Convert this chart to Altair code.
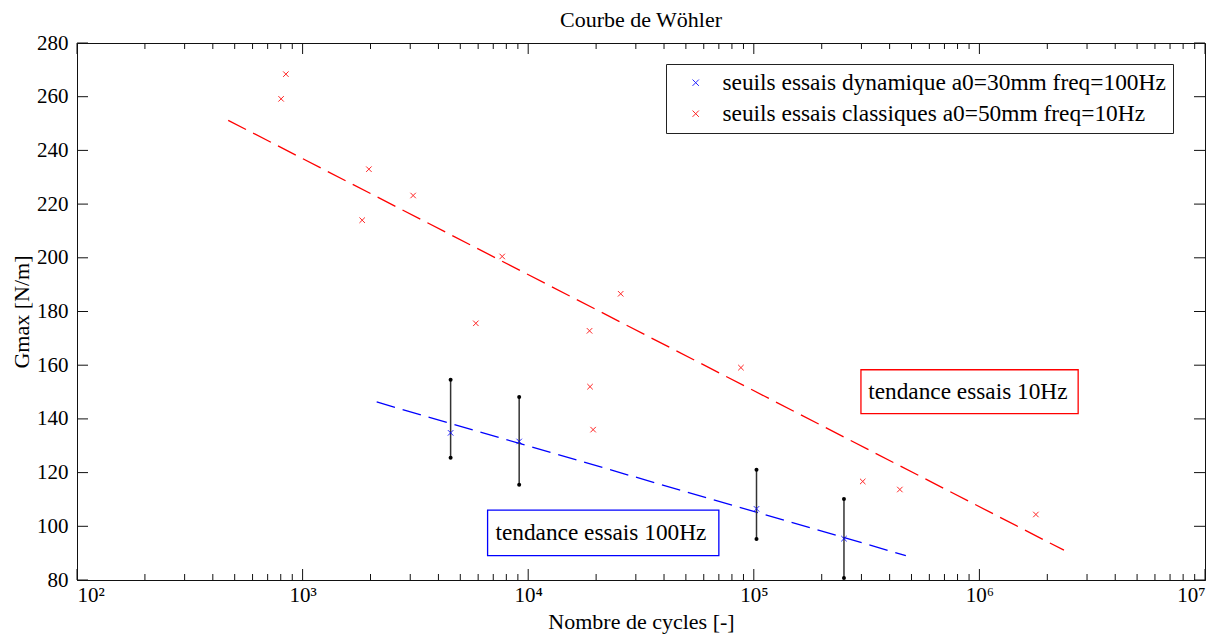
import altair as alt
import pandas as pd

# ---------------- data ----------------
label_blue = "seuils essais dynamique a0=30mm freq=100Hz"
label_red = "seuils essais classiques a0=50mm freq=10Hz"

red_N = [843, 803, 1967, 1837, 3090, 7670, 5860, 25700, 18700, 18800, 19400,
         87700, 304000, 444000, 1780000]
red_G = [268.4, 259.2, 233.0, 214.0, 223.2, 200.5, 175.6, 186.6, 172.8, 152.0,
         136.0, 159.1, 116.7, 113.7, 104.4]

blue_N = [4530, 9120, 102800, 251000]
blue_G = [134.8, 131.6, 106.5, 95.4]
blue_low = [125.5, 115.5, 95.3, 80.7]
blue_high = [154.6, 148.2, 121.1, 110.2]

trend_red_N = [468, 2370000]
trend_red_G = [251.2, 91.1]
trend_blue_N = [2130, 472000]
trend_blue_G = [146.3, 89.1]

ann_text = ["tendance essais 10Hz", "tendance essais 100Hz"]
ann_color = ["#ff0000", "#0000ff"]
ann_N = [889000, 21000]
ann_G = [150.15, 97.55]
box_N1 = [298500, 6607]
box_N2 = [2740000, 70000]
box_G1 = [158.3, 106.0]
box_G2 = [142.0, 89.1]

x_major = [1e2, 1e3, 1e4, 1e5, 1e6, 1e7]
x_minor = [k * 10 ** e for e in range(2, 7) for k in range(2, 10)]
y_ticks = [80, 100, 120, 140, 160, 180, 200, 220, 240, 260, 280]

W, H = 1128, 537
FONT = "Liberation Serif"
XPATH = "M-1,-1L1,1M1,-1L-1,1"

# ---------------- tables ----------------
df_pts = pd.DataFrame({
    "N": blue_N + red_N,
    "G": blue_G + red_G,
    "serie": [label_blue] * len(blue_N) + [label_red] * len(red_N),
})
df_err = pd.DataFrame({"N": blue_N, "lo": blue_low, "hi": blue_high})
df_caps = pd.DataFrame({"N": blue_N + blue_N, "G": blue_low + blue_high})
df_tr_red = pd.DataFrame({"N": trend_red_N, "G": trend_red_G})
df_tr_blue = pd.DataFrame({"N": trend_blue_N, "G": trend_blue_G})
df_ann = pd.DataFrame({"txt": ann_text, "col": ann_color, "N": ann_N, "G": ann_G,
                       "N1": box_N1, "N2": box_N2, "G1": box_G1, "G2": box_G2})
df_xmaj = pd.DataFrame({"t": x_major})
df_xmin = pd.DataFrame({"t": x_minor})
df_y = pd.DataFrame({"t": y_ticks})

xscale = alt.Scale(type="log", domain=[1e2, 1e7], nice=False)
yscale = alt.Scale(domain=[80, 280], nice=False, zero=False)

x_axis = alt.Axis(
    values=x_major, tickSize=0, labelPadding=4, grid=False,
    labelExpr="'10' + ['⁰','¹','²','³','⁴','⁵','⁶','⁷'][round(log(datum.value)/LN10)]",
    title="Nombre de cycles [-]", titlePadding=6,
)
y_axis = alt.Axis(values=y_ticks, tickSize=0, labelPadding=9, grid=False,
                  title="Gmax [N/m]", titlePadding=3)


def X(f):
    return alt.X(f, type="quantitative", scale=xscale, axis=x_axis,
                 title="Nombre de cycles [-]")


def Y(f):
    return alt.Y(f, type="quantitative", scale=yscale, axis=y_axis,
                 title="Gmax [N/m]")


line_red = alt.Chart(df_tr_red).mark_line(
    color="#ff0000", strokeDash=[20, 8], strokeWidth=1.3
).encode(x=X("N"), y=Y("G"))

line_blue = alt.Chart(df_tr_blue).mark_line(
    color="#0000ff", strokeDash=[19, 8], strokeWidth=1.3
).encode(x=X("N"), y=Y("G"))

err = alt.Chart(df_err).mark_rule(color="#333333", strokeWidth=1.5).encode(
    x=X("N"), y=Y("lo"), y2="hi")

caps = alt.Chart(df_caps).mark_circle(color="black", size=16, opacity=1).encode(
    x=X("N"), y=Y("G"))

pts = alt.Chart(df_pts).mark_point(shape=XPATH, filled=False, size=30,
                                   strokeWidth=1, opacity=0.85).encode(
    x=X("N"), y=Y("G"),
    color=alt.Color("serie:N",
                    scale=alt.Scale(domain=[label_blue, label_red],
                                    range=["#0000ff", "#ff0000"]),
                    legend=alt.Legend(
                        orient="none", legendX=589, legendY=21, title=None,
                        labelFont=FONT, labelFontSize=23.4, labelLimit=1000,
                        labelColor="black",
                        symbolType=XPATH, symbolSize=40, symbolStrokeWidth=1,
                        symbolOffset=11, labelOffset=15, padding=7,
                        strokeColor="#222222", fillColor="white", rowPadding=6,
                    )),
)

boxes = alt.Chart(df_ann).mark_rect(fill="white", strokeWidth=1.3).encode(
    x=X("N1"), x2="N2", y=Y("G1"), y2="G2",
    stroke=alt.Stroke("col:N", scale=None))

texts = alt.Chart(df_ann).mark_text(font=FONT, fontSize=23.3, color="black",
                                    baseline="middle", align="center").encode(
    x=X("N"), y=Y("G"), text="txt:N")

tk = dict(color="#111111", strokeWidth=1)
top_maj = alt.Chart(df_xmaj).mark_rule(**tk).encode(x=X("t"), y=alt.value(0), y2=alt.value(11))
bot_maj = alt.Chart(df_xmaj).mark_rule(**tk).encode(x=X("t"), y=alt.value(H), y2=alt.value(H - 11))
top_min = alt.Chart(df_xmin).mark_rule(**tk).encode(x=X("t"), y=alt.value(0), y2=alt.value(6))
bot_min = alt.Chart(df_xmin).mark_rule(**tk).encode(x=X("t"), y=alt.value(H), y2=alt.value(H - 6))
left_t = alt.Chart(df_y).mark_rule(**tk).encode(y=Y("t"), x=alt.value(0), x2=alt.value(11))
right_t = alt.Chart(df_y).mark_rule(**tk).encode(y=Y("t"), x=alt.value(W), x2=alt.value(W - 11))

chart = alt.layer(
    line_red, line_blue, err, caps, pts, boxes, texts,
    top_maj, bot_maj, top_min, bot_min, left_t, right_t,
).properties(
    width=W, height=H,
    autosize=alt.AutoSizeParams(type="none"),
    padding={"left": 69, "top": 35, "right": 11, "bottom": 55},
    title=alt.TitleParams("Courbe de Wöhler", font=FONT, fontSize=22,
                          fontWeight="normal", color="black", offset=0,
                          anchor="middle"),
    background="white",
).configure_view(
    stroke="#111111", strokeWidth=1
).configure_axis(
    labelFont=FONT, labelFontSize=21, labelColor="black",
    titleFont=FONT, titleFontSize=22, titleFontWeight="normal", titleColor="black",
    domainColor="#111111", domainWidth=1,
)

chart.save("out.html", embed_options={"renderer": "svg", "actions": False})
